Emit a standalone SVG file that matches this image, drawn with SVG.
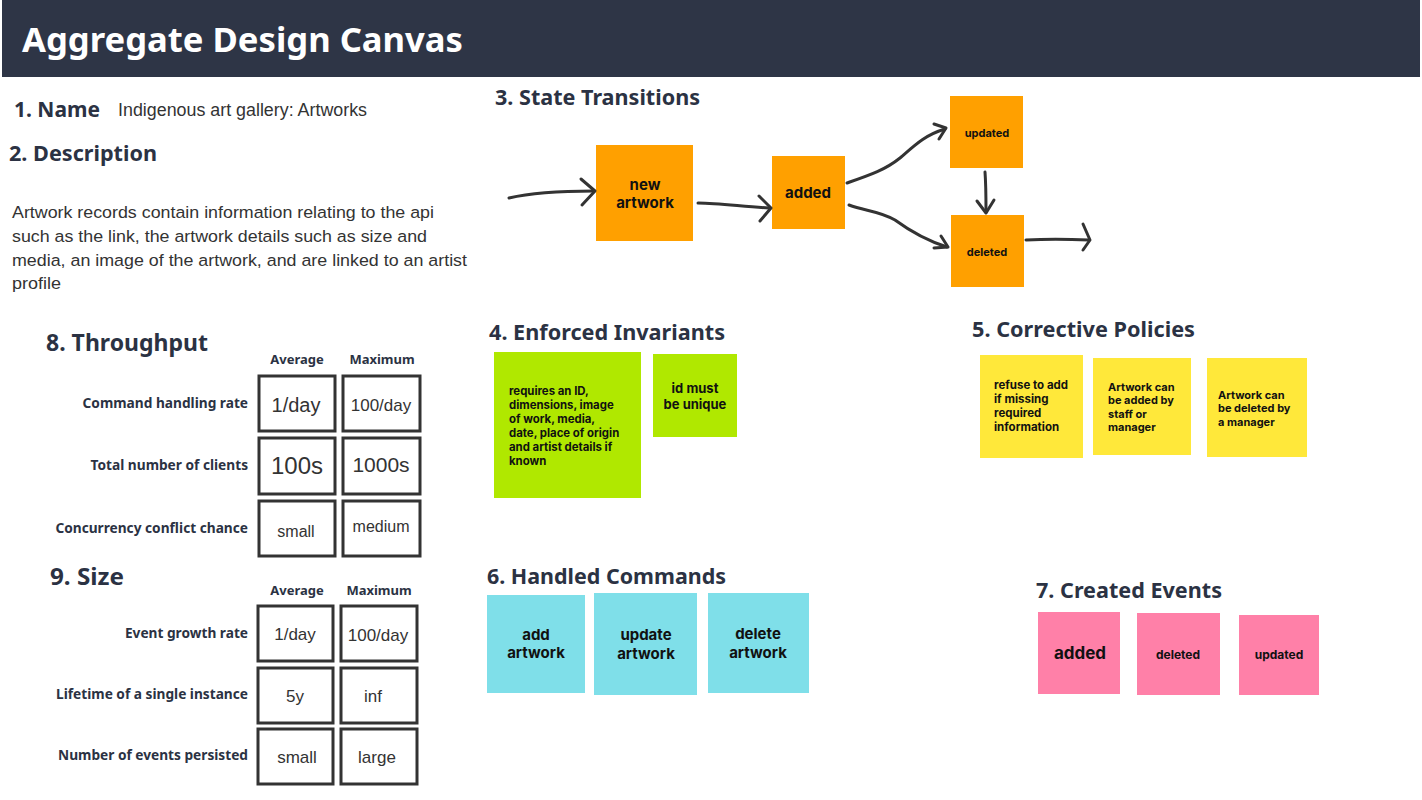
<svg xmlns="http://www.w3.org/2000/svg" width="1422" height="800" viewBox="0 0 1422 800">
<style>
.h{font-family:"Noto Sans","Open Sans",sans-serif;font-weight:700;fill:#2b3243}
.h20{font-size:21.6px}
.h22{font-size:23px}
.r{font-family:"Liberation Sans",Arial,sans-serif;fill:#333}
.s{font-family:"Inter","Lato",sans-serif;font-weight:700;fill:#111}
.lab{font-family:"Noto Sans",sans-serif;font-weight:700;font-size:13.7px;fill:#2b3243;text-anchor:end}
.col{font-family:"Noto Sans",sans-serif;font-weight:700;font-size:13px;fill:#2b3243;text-anchor:middle}
.cell{fill:#fff;stroke:#333;stroke-width:3}
.v{font-family:"Liberation Sans",Arial,sans-serif;fill:#333;text-anchor:middle}
.or{fill:#ffa000}
.gr{fill:#b0e800}
.ye{fill:#ffe83a}
.cy{fill:#7fdfe9}
.pk{fill:#ff80a8}
.c{text-anchor:middle}
.arr{fill:none;stroke:#333;stroke-width:3;stroke-linecap:round;stroke-linejoin:round}
</style>
<rect width="1422" height="800" fill="#fff"/>
<g id="header">
<rect x="2" y="0" width="1418" height="77" fill="#2e3546"/>
<text x="22" y="52" font-family="Noto Sans,sans-serif" font-weight="700" font-size="34" fill="#fff" textLength="441" lengthAdjust="spacingAndGlyphs">Aggregate Design Canvas</text>
</g>
<g id="name">
<text class="h h20" x="14" y="117" textLength="86" lengthAdjust="spacingAndGlyphs">1. Name</text>
<text class="r" x="118" y="116" font-size="17.5" textLength="249" lengthAdjust="spacingAndGlyphs">Indigenous art gallery: Artworks</text>
</g>
<g id="description">
<text class="h h20" x="9" y="161" textLength="148" lengthAdjust="spacingAndGlyphs">2. Description</text>
<text class="r" font-size="16.8" x="12" y="218" textLength="422" lengthAdjust="spacingAndGlyphs">Artwork records contain information relating to the api</text>
<text class="r" font-size="16.8" x="12" y="242" textLength="415" lengthAdjust="spacingAndGlyphs">such as the link, the artwork details such as size and</text>
<text class="r" font-size="16.8" x="12" y="266" textLength="455" lengthAdjust="spacingAndGlyphs">media, an image of the artwork, and are linked to an artist</text>
<text class="r" font-size="16.8" x="12" y="289" textLength="49" lengthAdjust="spacingAndGlyphs">profile</text>
</g>
<text class="h h20" x="495" y="105" textLength="205" lengthAdjust="spacingAndGlyphs">3. State Transitions</text>
<g id="st-new">
<rect class="or" x="596" y="145" width="97" height="96"/>
<text class="s c" font-size="15"><tspan x="645" y="190">new</tspan><tspan x="645" y="208">artwork</tspan></text>
</g>
<g id="st-added">
<rect class="or" x="772" y="156" width="73" height="73"/>
<text class="s c" font-size="15" x="808" y="198">added</text>
</g>
<g id="st-updated">
<rect class="or" x="950" y="96" width="73" height="72"/>
<text class="s c" font-size="11" x="987" y="137">updated</text>
</g>
<g id="st-deleted">
<rect class="or" x="951" y="215" width="73" height="72"/>
<text class="s c" font-size="11" x="987" y="256">deleted</text>
</g>
<g id="connectors">
<path class="arr" d="M509 198 C530 193 560 191 594 191"/>
<path class="arr" d="M581 179 L595 191 L582 205"/>
<path class="arr" d="M698 203 C720 203 745 207 769 208"/>
<path class="arr" d="M759 196 L771 208 L760 221"/>
<path class="arr" d="M847 183 C870 175 885 170 900 158 C915 145 925 135 945 129"/>
<path class="arr" d="M934 124 L946 128 L939 139"/>
<path class="arr" d="M849 205 C865 211 880 211 895 220 C910 231 925 240 947 247"/>
<path class="arr" d="M934 248 L948 247 L941 236"/>
<path class="arr" d="M985 172 C986 185 986 198 986 212"/>
<path class="arr" d="M977 201 L986 213 L994 200"/>
<path class="arr" d="M1026 240 C1045 239 1065 239 1089 240"/>
<path class="arr" d="M1083 224 L1090 240 L1083 250"/>
</g>
<text class="h h20" x="489" y="340" textLength="236" lengthAdjust="spacingAndGlyphs">4. Enforced Invariants</text>
<g id="inv-1">
<rect class="gr" x="494" y="352" width="147" height="146"/>
<text class="s" font-size="11.4"><tspan x="509" y="395">requires an ID,</tspan><tspan x="509" y="409">dimensions, image</tspan><tspan x="509" y="423">of work, media,</tspan><tspan x="509" y="437">date, place of origin</tspan><tspan x="509" y="451">and artist details if</tspan><tspan x="509" y="465">known</tspan></text>
</g>
<g id="inv-2">
<rect class="gr" x="653" y="354" width="84" height="83"/>
<text class="s c" font-size="13"><tspan x="695" y="393">id must</tspan><tspan x="695" y="409">be unique</tspan></text>
</g>
<text class="h h20" x="972" y="337" textLength="223" lengthAdjust="spacingAndGlyphs">5. Corrective Policies</text>
<g id="pol-1">
<rect class="ye" x="980" y="355" width="103" height="103"/>
<text class="s" font-size="11.5"><tspan x="994" y="389">refuse to add</tspan><tspan x="994" y="403">if missing</tspan><tspan x="994" y="417">required</tspan><tspan x="994" y="431">information</tspan></text>
</g>
<g id="pol-2">
<rect class="ye" x="1093" y="358" width="98" height="97"/>
<text class="s" font-size="11"><tspan x="1108" y="391">Artwork can</tspan><tspan x="1108" y="404">be added by</tspan><tspan x="1108" y="418">staff or</tspan><tspan x="1108" y="431">manager</tspan></text>
</g>
<g id="pol-3">
<rect class="ye" x="1207" y="358" width="100" height="99"/>
<text class="s" font-size="11"><tspan x="1218" y="399">Artwork can</tspan><tspan x="1218" y="412">be deleted by</tspan><tspan x="1218" y="426">a manager</tspan></text>
</g>
<text class="h h20" x="487" y="584" textLength="239" lengthAdjust="spacingAndGlyphs">6. Handled Commands</text>
<g id="cmd-add">
<rect class="cy" x="487" y="595" width="98" height="98"/>
<text class="s c" font-size="15"><tspan x="536" y="640">add</tspan><tspan x="536" y="658">artwork</tspan></text>
</g>
<g id="cmd-update">
<rect class="cy" x="594" y="593" width="103" height="102"/>
<text class="s c" font-size="15"><tspan x="646" y="640">update</tspan><tspan x="646" y="659">artwork</tspan></text>
</g>
<g id="cmd-delete">
<rect class="cy" x="708" y="593" width="101" height="100"/>
<text class="s c" font-size="15"><tspan x="758" y="639">delete</tspan><tspan x="758" y="658">artwork</tspan></text>
</g>
<text class="h h20" x="1036" y="598" textLength="186" lengthAdjust="spacingAndGlyphs">7. Created Events</text>
<g id="ev-added">
<rect class="pk" x="1038" y="612" width="82" height="82"/>
<text class="s c" font-size="17" x="1080" y="659">added</text>
</g>
<g id="ev-deleted">
<rect class="pk" x="1137" y="613" width="83" height="82"/>
<text class="s c" font-size="12" x="1178" y="659">deleted</text>
</g>
<g id="ev-updated">
<rect class="pk" x="1239" y="615" width="80" height="80"/>
<text class="s c" font-size="12" x="1279" y="659">updated</text>
</g>
<g id="throughput">
<text class="h h22" x="46" y="351" textLength="162" lengthAdjust="spacingAndGlyphs">8. Throughput</text>
<text class="col" x="297" y="364">Average</text>
<text class="col" x="382" y="364">Maximum</text>
<rect class="cell" x="259" y="376" width="76" height="55"/>
<rect class="cell" x="343" y="376" width="77" height="55"/>
<rect class="cell" x="259" y="438" width="76" height="56"/>
<rect class="cell" x="343" y="438" width="77" height="56"/>
<rect class="cell" x="259" y="501" width="76" height="55"/>
<rect class="cell" x="343" y="501" width="77" height="55"/>
<text class="lab" x="248" y="408">Command handling rate</text>
<text class="lab" x="248" y="470">Total number of clients</text>
<text class="lab" x="248" y="533">Concurrency conflict chance</text>
<text class="v" x="296" y="412" font-size="20">1/day</text>
<text class="v" x="381" y="411" font-size="17">100/day</text>
<text class="v" x="297" y="474" font-size="24">100s</text>
<text class="v" x="381" y="472" font-size="21">1000s</text>
<text class="v" x="296" y="537" font-size="16">small</text>
<text class="v" x="381" y="532" font-size="16">medium</text>
</g>
<g id="size">
<text class="h h22" x="50" y="585" textLength="74" lengthAdjust="spacingAndGlyphs">9. Size</text>
<text class="col" x="297" y="595">Average</text>
<text class="col" x="379" y="595">Maximum</text>
<rect class="cell" x="258" y="606" width="75" height="55"/>
<rect class="cell" x="341" y="606" width="76" height="55"/>
<rect class="cell" x="258" y="668" width="75" height="55"/>
<rect class="cell" x="341" y="668" width="76" height="55"/>
<rect class="cell" x="258" y="729" width="75" height="55"/>
<rect class="cell" x="341" y="729" width="76" height="55"/>
<text class="lab" x="248" y="638">Event growth rate</text>
<text class="lab" x="248" y="699">Lifetime of a single instance</text>
<text class="lab" x="248" y="760">Number of events persisted</text>
<text class="v" x="295" y="640" font-size="17">1/day</text>
<text class="v" x="378" y="641" font-size="17">100/day</text>
<text class="v" x="295" y="702" font-size="17">5y</text>
<text class="v" x="373" y="702" font-size="17">inf</text>
<text class="v" x="297" y="763" font-size="17">small</text>
<text class="v" x="377" y="763" font-size="17">large</text>
</g>
</svg>
